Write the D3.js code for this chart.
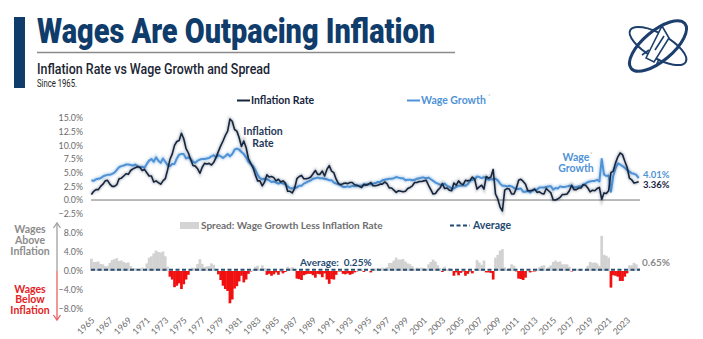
<!DOCTYPE html>
<html><head><meta charset="utf-8">
<script src="https://cdn.jsdelivr.net/npm/d3@7"></script>
<style>
html,body{margin:0;padding:0;background:#fff;}
svg{display:block;font-family:Lato,"Open Sans",sans-serif;}
</style></head>
<body>
<svg id="c" width="703" height="339"></svg>
<script>
// ---------------- DATA (quarterly, 1965 Q1 .. 2024 Q2) ----------------
const startYear = 1965;
const inflationRate = [
 1.0,1.6,1.9,1.9, 2.5,2.9,3.5,3.6, 2.9,2.5,2.5,2.8, 3.9,4.0,4.4,4.8, 4.7,5.4,5.7,5.9,
 6.1,6.0,5.4,5.6, 5.0,4.4,4.4,3.3, 3.5,3.2,2.9,3.5, 3.9,5.5,7.4,8.4, 10.0,10.7,10.9,12.2,
 11.2,9.4,8.6,7.4, 6.3,6.2,5.7,4.9, 6.0,6.7,6.6,6.7, 6.4,6.9,7.8,8.9, 9.9,10.8,11.8,12.6,
 14.8,14.4,12.9,12.6, 11.4,9.8,10.8,9.6, 7.6,6.7,5.9,4.6, 3.5,3.5,2.6,3.3, 4.6,4.2,4.3,4.1,
 3.5,3.8,3.3,3.5, 3.1,1.6,1.6,1.3, 2.1,3.9,4.3,4.5, 3.9,3.9,4.0,4.2, 4.8,5.4,4.7,4.7,
 5.3,4.4,5.6,6.3, 5.3,5.0,3.8,3.0, 2.8,3.0,3.1,3.0, 3.2,3.2,2.8,2.7, 2.5,2.3,2.9,2.7,
 2.9,3.2,2.6,2.6, 2.7,2.9,2.9,3.3, 3.0,2.2,2.2,1.8, 1.4,1.7,1.6,1.5, 1.6,2.1,2.3,2.6,
 3.2,3.2,3.4,3.4, 3.5,3.6,2.7,1.9, 1.1,1.2,1.8,2.2, 3.0,2.1,2.2,1.8, 1.7,3.1,2.7,3.5,
 3.0,2.8,3.6,3.5, 3.6,4.2,3.8,2.0, 2.4,2.7,2.0,4.3, 4.0,4.2,5.6,1.1, 0.2,-1.3,-2.0,1.8,
 2.1,2.0,1.1,1.1, 2.1,3.6,3.8,3.4, 2.9,1.7,1.7,1.8, 2.0,1.4,1.5,1.2, 1.1,2.1,1.7,1.3,
 0.0,0.0,0.2,0.5, 1.0,1.0,1.1,1.7, 2.7,1.9,1.9,2.2, 2.2,2.8,2.7,2.2, 1.5,1.8,1.7,2.1,
 2.3,0.1,1.3,1.2, 1.7,5.0,5.3,6.8, 7.9,8.6,8.3,7.1, 6.0,4.0,3.7,3.1, 3.2,3.36
];
const wageGrowth = [
 3.6,3.5,3.8,3.9, 4.0,4.3,4.5,4.6, 4.6,4.8,5.0,5.5, 6.0,6.2,6.3,6.5, 6.5,6.4,6.3,6.5,
 6.2,6.0,6.1,5.9, 6.6,7.2,7.5,7.0, 7.8,7.2,6.8,7.6, 7.0,6.4,6.2,6.6, 6.6,7.6,8.3,8.4,
 8.4,7.6,7.8,7.5, 7.0,6.8,7.2,7.4, 7.5,7.5,7.6,7.7, 8.0,8.2,7.8,8.2, 8.0,7.7,8.0,8.4,
 8.0,8.4,9.2,9.4, 9.2,8.8,8.4,7.8, 7.0,6.6,6.2,5.5, 4.6,4.0,3.8,3.9, 3.8,3.6,3.3,3.4,
 3.2,3.0,3.2,3.0, 2.9,2.5,2.2,2.1, 2.3,2.3,2.6,2.6, 3.0,3.2,3.4,3.6, 3.9,4.0,4.1,4.0,
 4.0,3.9,3.8,3.6, 3.6,3.2,3.0,2.9, 2.7,2.4,2.4,2.5, 2.4,2.6,2.5,2.6, 2.6,2.6,2.7,2.9,
 2.9,2.9,3.0,3.1, 3.3,3.3,3.6,3.7, 3.8,3.9,3.9,4.0, 4.2,4.1,4.0,4.0, 3.6,3.7,3.7,3.6,
 3.7,3.9,4.0,4.1, 4.1,4.0,4.1,3.8, 3.5,3.2,3.0,2.8, 2.8,3.0,2.6,2.4, 2.1,2.1,2.4,2.6,
 2.6,2.7,2.6,2.9, 3.5,3.7,3.8,4.3, 4.2,4.0,4.2,4.0, 3.7,3.8,3.8,3.9, 3.6,3.0,2.6,2.6,
 2.5,2.6,2.5,2.2, 2.0,2.0,2.1,1.5, 1.5,1.7,1.4,1.7, 1.9,1.9,2.3,2.3, 2.3,2.4,2.5,2.5,
 1.9,2.2,2.1,2.5, 2.4,2.4,2.5,2.6, 2.6,2.3,2.4,2.5, 2.5,2.8,3.0,3.3, 3.4,3.5,3.5,3.7,
 3.4,7.5,4.7,4.4, 4.5,1.5,4.4,5.8, 6.7,6.5,6.2,5.9, 5.5,5.2,4.9,4.8, 4.6,4.01
];
const topTicks = [15, 12.5, 10, 7.5, 5, 2.5, 0, -2.5];
const bottomTicks = [8, 4, 0, -4, -8];
const yearLabels = d3.range(1965, 2024, 2);
const averageSpread = 0.25;

// ---------------- SETUP ----------------
const svg = d3.select("#c");
const NAVY = "#0f3c6b", INFL = "#16263e", WAGE = "#4f93d6", GREY = "#6b6b6b", RED = "#e32222";

const data = inflationRate.map((v, i) => ({
  t: startYear + i / 4 + 1 / 24,
  infl: v,
  wage: wageGrowth[i],
  spread: wageGrowth[i] - v
}));

const x = d3.scaleLinear().domain([1965, 2024.33]).range([91, 639]);
const yTop = d3.scaleLinear().domain([-2.5, 15]).range([213.7, 118]);
const yBot = d3.scaleLinear().domain([-8, 8]).range([309, 233]);

const defs = svg.append("defs");
defs.append("filter").attr("id", "blur").attr("x", "-5%").attr("y", "-20%").attr("width", "110%").attr("height", "140%")
  .append("feGaussianBlur").attr("stdDeviation", 1.3);

// ---------------- HEADER ----------------
svg.append("rect").attr("x", 14).attr("y", 17).attr("width", 11).attr("height", 71).attr("fill", NAVY);
svg.append("text").attr("x", 37).attr("y", 43).text("Wages Are Outpacing Inflation")
  .attr("font-family", "Roboto, 'Open Sans', sans-serif").attr("font-weight", 900).attr("font-size", 35)
  .attr("fill", NAVY).attr("textLength", 398).attr("lengthAdjust", "spacingAndGlyphs");
svg.append("line").attr("x1", 37).attr("x2", 455).attr("y1", 52.5).attr("y2", 52.5).attr("stroke", "#8a8a8a").attr("stroke-width", 1.5);
svg.append("text").attr("x", 37).attr("y", 73.5).text("Inflation Rate vs Wage Growth and Spread")
  .attr("font-family", "Roboto, sans-serif").attr("font-weight", 500).attr("font-size", 15.5)
  .attr("fill", "#1b2533").attr("textLength", 233).attr("lengthAdjust", "spacingAndGlyphs");
svg.append("text").attr("x", 37).attr("y", 86.5).text("Since 1965.")
  .attr("font-family", "Roboto, sans-serif").attr("font-size", 10).attr("fill", "#222")
  .attr("textLength", 40).attr("lengthAdjust", "spacingAndGlyphs");

// logo
const logo = svg.append("g").attr("transform", "translate(658,46)").attr("fill", "none").attr("stroke", "#1c3f6d");
logo.append("ellipse").attr("rx", 35).attr("ry", 15).attr("transform", "rotate(-40)").attr("stroke-width", 3);
logo.append("ellipse").attr("rx", 32).attr("ry", 12).attr("transform", "rotate(30)").attr("stroke-width", 2);
logo.append("path").attr("d", "M-12,12 L4,-20 L11,-8 L-4,16 Z").attr("stroke-width", 1.6).attr("fill", "#fff");
logo.append("path").attr("d", "M-9,4 L-16,9 M1,13 L-2,20 M-3,4 L6,-10").attr("stroke-width", 1.6);

// ---------------- TOP LEGEND ----------------
svg.append("line").attr("x1", 237).attr("x2", 250).attr("y1", 100.5).attr("y2", 100.5).attr("stroke", INFL).attr("stroke-width", 2);
svg.append("text").attr("x", 251).attr("y", 104).text("Inflation Rate").attr("font-weight", 700).attr("font-size", 10.5).attr("fill", INFL);
svg.append("line").attr("x1", 407).attr("x2", 420).attr("y1", 100.5).attr("y2", 100.5).attr("stroke", WAGE).attr("stroke-width", 2);
svg.append("text").attr("x", 421).attr("y", 104).text("Wage Growth").attr("font-weight", 700).attr("font-size", 10.5).attr("fill", WAGE);
svg.append("text").attr("x", 488).attr("y", 98).text("*").attr("font-size", 6).attr("fill", "#9ab");

// ---------------- TOP CHART ----------------
const gTopAxis = svg.append("g").attr("transform", "translate(86,0)")
  .call(d3.axisLeft(yTop).tickValues(topTicks).tickSize(0).tickPadding(3).tickFormat(d => d3.format(".1f")(d) + "%"));
gTopAxis.select(".domain").remove();
gTopAxis.selectAll("text").attr("font-size", 8.8).attr("fill", GREY).attr("font-family", "Lato, sans-serif");

svg.append("line").attr("x1", 91).attr("x2", 640).attr("y1", yTop(0)).attr("y2", yTop(0)).attr("stroke", "#777").attr("stroke-width", 1);

const lineW = d3.line().x(d => x(d.t)).y(d => yTop(d.wage));
const lineI = d3.line().x(d => x(d.t)).y(d => yTop(d.infl));
svg.append("path").datum(data).attr("d", lineW).attr("fill", "none").attr("stroke", WAGE).attr("stroke-width", 4).attr("opacity", 0.35).attr("filter", "url(#blur)");
svg.append("path").datum(data).attr("d", lineW).attr("fill", "none").attr("stroke", WAGE).attr("stroke-width", 2).attr("stroke-linejoin", "round");
svg.append("path").datum(data).attr("d", lineI).attr("fill", "none").attr("stroke", INFL).attr("stroke-width", 3.5).attr("opacity", 0.25).attr("filter", "url(#blur)");
svg.append("path").datum(data).attr("d", lineI).attr("fill", "none").attr("stroke", INFL).attr("stroke-width", 1.6).attr("stroke-linejoin", "round");

// inline labels
const lblI = svg.append("text").attr("text-anchor", "middle").attr("font-weight", 700).attr("font-size", 10.5).attr("fill", "#1f3858");
lblI.append("tspan").attr("x", 263).attr("y", 135).text("Inflation");
lblI.append("tspan").attr("x", 263).attr("y", 146.5).text("Rate");
const lblW = svg.append("text").attr("text-anchor", "middle").attr("font-weight", 700).attr("font-size", 10.5).attr("fill", WAGE);
lblW.append("tspan").attr("x", 576).attr("y", 160.5).text("Wage");
lblW.append("tspan").attr("x", 576).attr("y", 172).text("Growth");
svg.append("text").attr("x", 590).attr("y", 156).text("*").attr("font-size", 6).attr("fill", "#9ab");

const last = data[data.length - 1];
svg.append("text").attr("x", 643).attr("y", 177.5).text(d3.format(".2f")(last.wage) + "%").attr("font-weight", 700).attr("font-size", 9.5).attr("fill", WAGE);
svg.append("text").attr("x", 643).attr("y", 188).text(d3.format(".2f")(last.infl) + "%").attr("font-weight", 700).attr("font-size", 9.5).attr("fill", INFL);

// ---------------- BOTTOM LEGEND ----------------
svg.append("rect").attr("x", 180).attr("y", 222).attr("width", 19).attr("height", 7).attr("fill", "#d4d4d4");
svg.append("text").attr("x", 201).attr("y", 229).text("Spread: Wage Growth Less Inflation Rate").attr("font-weight", 700).attr("font-size", 10).attr("fill", "#6e6e6e");
svg.append("line").attr("x1", 450).attr("x2", 470).attr("y1", 225.5).attr("y2", 225.5).attr("stroke", "#1f4a72").attr("stroke-width", 2).attr("stroke-dasharray", "4,2.5");
svg.append("text").attr("x", 473).attr("y", 229).text("Average").attr("font-weight", 700).attr("font-size", 10.5).attr("fill", "#1f4a72");

// ---------------- BOTTOM CHART ----------------
const gBotAxis = svg.append("g").attr("transform", "translate(86,0)")
  .call(d3.axisLeft(yBot).tickValues(bottomTicks).tickSize(0).tickPadding(3).tickFormat(d => d3.format(".1f")(d) + "%"));
gBotAxis.select(".domain").remove();
gBotAxis.selectAll("text").attr("font-size", 8.8).attr("fill", GREY).attr("font-family", "Lato, sans-serif");

const bw = (x(1966) - x(1965)) / 4 + 0.4;
svg.append("g").selectAll("rect").data(data).join("rect")
  .attr("x", d => x(d.t) - bw / 2)
  .attr("width", bw)
  .attr("y", d => d.spread >= 0 ? yBot(d.spread) : yBot(0))
  .attr("height", d => Math.abs(yBot(d.spread) - yBot(0)))
  .attr("fill", d => d.spread >= 0 ? "#d2d2d2" : "#f01010");

svg.append("line").attr("x1", 91).attr("x2", 640).attr("y1", yBot(averageSpread)).attr("y2", yBot(averageSpread))
  .attr("stroke", "#2a4e70").attr("stroke-width", 2).attr("stroke-dasharray", "4,2.5");
svg.append("text").attr("x", 300).attr("y", 265.5).text("Average:  " + d3.format(".2f")(averageSpread) + "%").attr("font-weight", 700).attr("font-size", 10).attr("fill", "#1f4a72").attr("xml:space", "preserve");
svg.append("text").attr("x", 642).attr("y", 265.5).text(d3.format(".2f")(last.spread) + "%").attr("font-weight", 700).attr("font-size", 10).attr("fill", "#8a8a8a");

// side annotations
const aboveT = svg.append("text").attr("text-anchor", "middle").attr("font-weight", 700).attr("font-size", 10.5).attr("fill", "#8c8c8c");
["Wages", "Above", "Inflation"].forEach((s, i) => aboveT.append("tspan").attr("x", 30).attr("y", 232.5 + i * 11).text(s));
const belowT = svg.append("text").attr("text-anchor", "middle").attr("font-weight", 700).attr("font-size", 10.5).attr("fill", RED);
["Wages", "Below", "Inflation"].forEach((s, i) => belowT.append("tspan").attr("x", 30).attr("y", 292.5 + i * 10.7).text(s));
svg.append("line").attr("x1", 57).attr("x2", 57).attr("y1", 224).attr("y2", 271).attr("stroke", "#a0a0a0").attr("stroke-width", 1.3);
svg.append("path").attr("d", "M53.5,228 L57,223 L60.5,228").attr("fill", "none").attr("stroke", "#a0a0a0").attr("stroke-width", 1.3);
svg.append("line").attr("x1", 57).attr("x2", 57).attr("y1", 271).attr("y2", 320).attr("stroke", "#e86060").attr("stroke-width", 1.3);
svg.append("path").attr("d", "M53.5,315 L57,320 L60.5,315").attr("fill", "none").attr("stroke", "#e86060").attr("stroke-width", 1.3);

// ---------------- X AXIS ----------------
const gX = svg.append("g").attr("transform", "translate(0,320)")
  .call(d3.axisBottom(x).tickValues(yearLabels).tickSize(0).tickFormat(d3.format("d")));
gX.select(".domain").remove();
gX.selectAll("text").attr("x", 2).attr("y", 0).attr("dy", "0.35em").attr("transform", "rotate(-45)")
  .style("text-anchor", "end").attr("font-size", 8.8).attr("fill", GREY).attr("font-family", "Lato, sans-serif");
</script>
</body></html>
